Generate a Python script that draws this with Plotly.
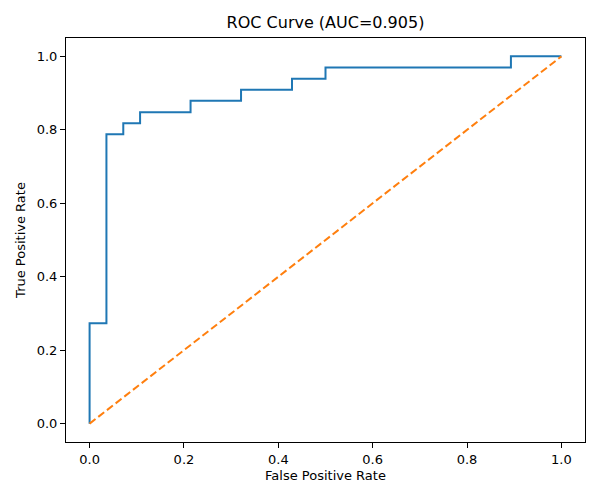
import plotly.graph_objects as go

# ROC points
fpr = [0.0, 0.0, 0.0357, 0.0714, 0.107, 0.214, 0.321, 0.429, 0.5, 0.893, 1.0]
tpr = [0.0, 0.273, 0.788, 0.818, 0.848, 0.879, 0.909, 0.939, 0.970, 1.0, 1.0]
diag = [0.0, 1.0]
auc = 0.905

fig = go.Figure()
fig.add_trace(go.Scatter(x=fpr, y=tpr, mode="lines", line_shape="hv",
                         line=dict(color="#1f77b4", width=2)))
fig.add_trace(go.Scatter(x=diag, y=diag, mode="lines",
                         line=dict(color="#ff7f0e", width=2, dash="7.5px,3.5px")))

axis = dict(range=[-0.05, 1.05], tickvals=[0, 0.2, 0.4, 0.6, 0.8, 1.0],
            ticktext=["0.0", "0.2", "0.4", "0.6", "0.8", "1.0"],
            showgrid=False, zeroline=False, showline=True, linecolor="black",
            linewidth=1, mirror=True, ticks="outside", ticklen=5,
            tickcolor="black", tickfont=dict(size=13, color="black"))

# page body adds 8px, so margins are shifted to match the reference
fig.update_layout(
    width=600, height=500,
    margin=dict(l=58, r=23, t=30, b=66),
    plot_bgcolor="white", paper_bgcolor="white",
    font=dict(family="DejaVu Sans", color="black"),
    showlegend=False,
    title=dict(text="ROC Curve (AUC=%.3f)" % auc, x=(58 + 519 / 2) / 600, xanchor="center",
               y=1 - 14 / 500, yanchor="middle", font=dict(size=16)),
    xaxis=dict(axis, title=dict(text="False Positive Rate", font=dict(size=13), standoff=5)),
    yaxis=dict(axis, title=dict(text="True Positive Rate", font=dict(size=13), standoff=8)),
)

fig.write_html("out.html")
